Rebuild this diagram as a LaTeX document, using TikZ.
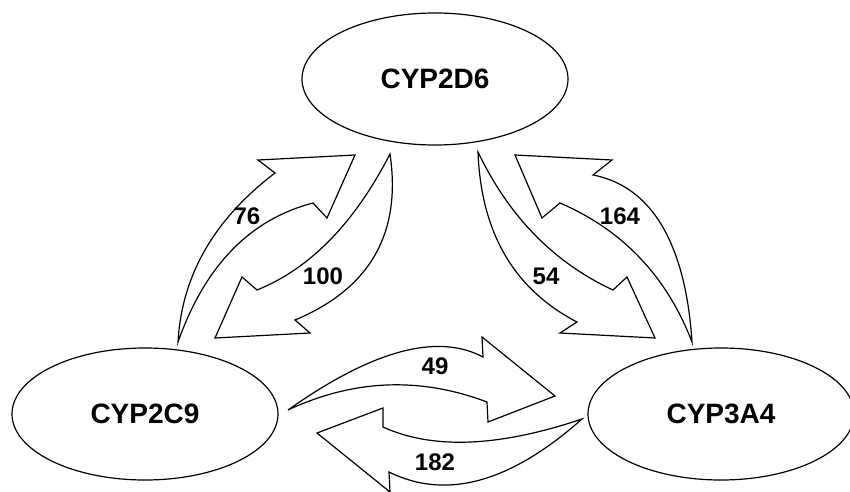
\documentclass[tikz,border=0pt]{standalone}
\usepackage{fontspec}
\setmainfont{Liberation Sans}
\usetikzlibrary{shapes.geometric}
\begin{document}
\begin{tikzpicture}[x=0.75pt,y=-0.75pt,
  ell/.style={ellipse,draw,line width=0.9pt,minimum width=199.5pt,minimum height=99pt,inner sep=0pt,
    font=\fontsize{21}{25}\selectfont\bfseries},
  blockarrow/.style={draw,line width=0.9pt,line join=miter},
  numlabel/.style={font=\fontsize{18}{21}\selectfont\bfseries,inner sep=0pt}]
\useasboundingbox (0,0) rectangle (850,492);
% ellipses
\node[ell] (d6) at (435,79) {CYP2D6};
\node[ell] (c9) at (145,414) {CYP2C9};
\node[ell] (a4) at (721,414) {CYP3A4};
% arrow 76 (CYP2C9 -> CYP2D6)
\draw[blockarrow] (178,342) .. controls (181.7,275.7) and (214,219.3) .. (275,173)
  -- (258,160) -- (355,155) -- (327,218) -- (313,203)
  .. controls (250,219.3) and (205,265.7) .. (178,342) -- cycle;
% arrow 100 (CYP2D6 -> CYP2C9)
\draw[blockarrow] (390,154) .. controls (354.3,223.3) and (310,268.7) .. (257,290)
  -- (242,277) -- (215,338) -- (310,333) -- (295,320)
  .. controls (370,288.7) and (401.7,233.3) .. (390,154) -- cycle;
% arrow 54 (CYP2D6 -> CYP3A4)
\draw[blockarrow] (478,152) .. controls (481,232.7) and (514,289.3) .. (577,322)
  -- (560,333) -- (655,338) -- (627,277) -- (613,290)
  .. controls (554,262.7) and (509,216.7) .. (478,152) -- cycle;
% arrow 164 (CYP3A4 -> CYP2D6)
\draw[blockarrow] (692,342) .. controls (688,280) and (670,190) .. (593,175)
  -- (612,160) -- (515,155) -- (542,218) -- (560,203)
  .. controls (622.7,230) and (666.7,276.3) .. (692,342) -- cycle;
% arrow 49 (CYP2C9 -> CYP3A4)
\draw[blockarrow] (288,410) .. controls (372.3,350.3) and (437.3,332.7) .. (483,357)
  -- (482,337) -- (555,396) -- (488,422) -- (487,402)
  .. controls (420,376.7) and (353.7,379.3) .. (288,410) -- cycle;
% arrow 182 (CYP3A4 -> CYP2C9)
\draw[blockarrow] (582,419) .. controls (499,447) and (432.7,449.7) .. (383,427)
  -- (383,408) -- (317,433) -- (390,492) -- (389,472)
  .. controls (446,500.3) and (510.3,482.7) .. (582,419) -- cycle;
% labels
\node[numlabel] (l76) at (247,216) {76};
\node[numlabel] (l100) at (323,276) {100};
\node[numlabel] (l54) at (546,276) {54};
\node[numlabel] (l164) at (620,216) {164};
\node[numlabel] (l49) at (435,366) {49};
\node[numlabel] (l182) at (435,462) {182};
\end{tikzpicture}
\end{document}
